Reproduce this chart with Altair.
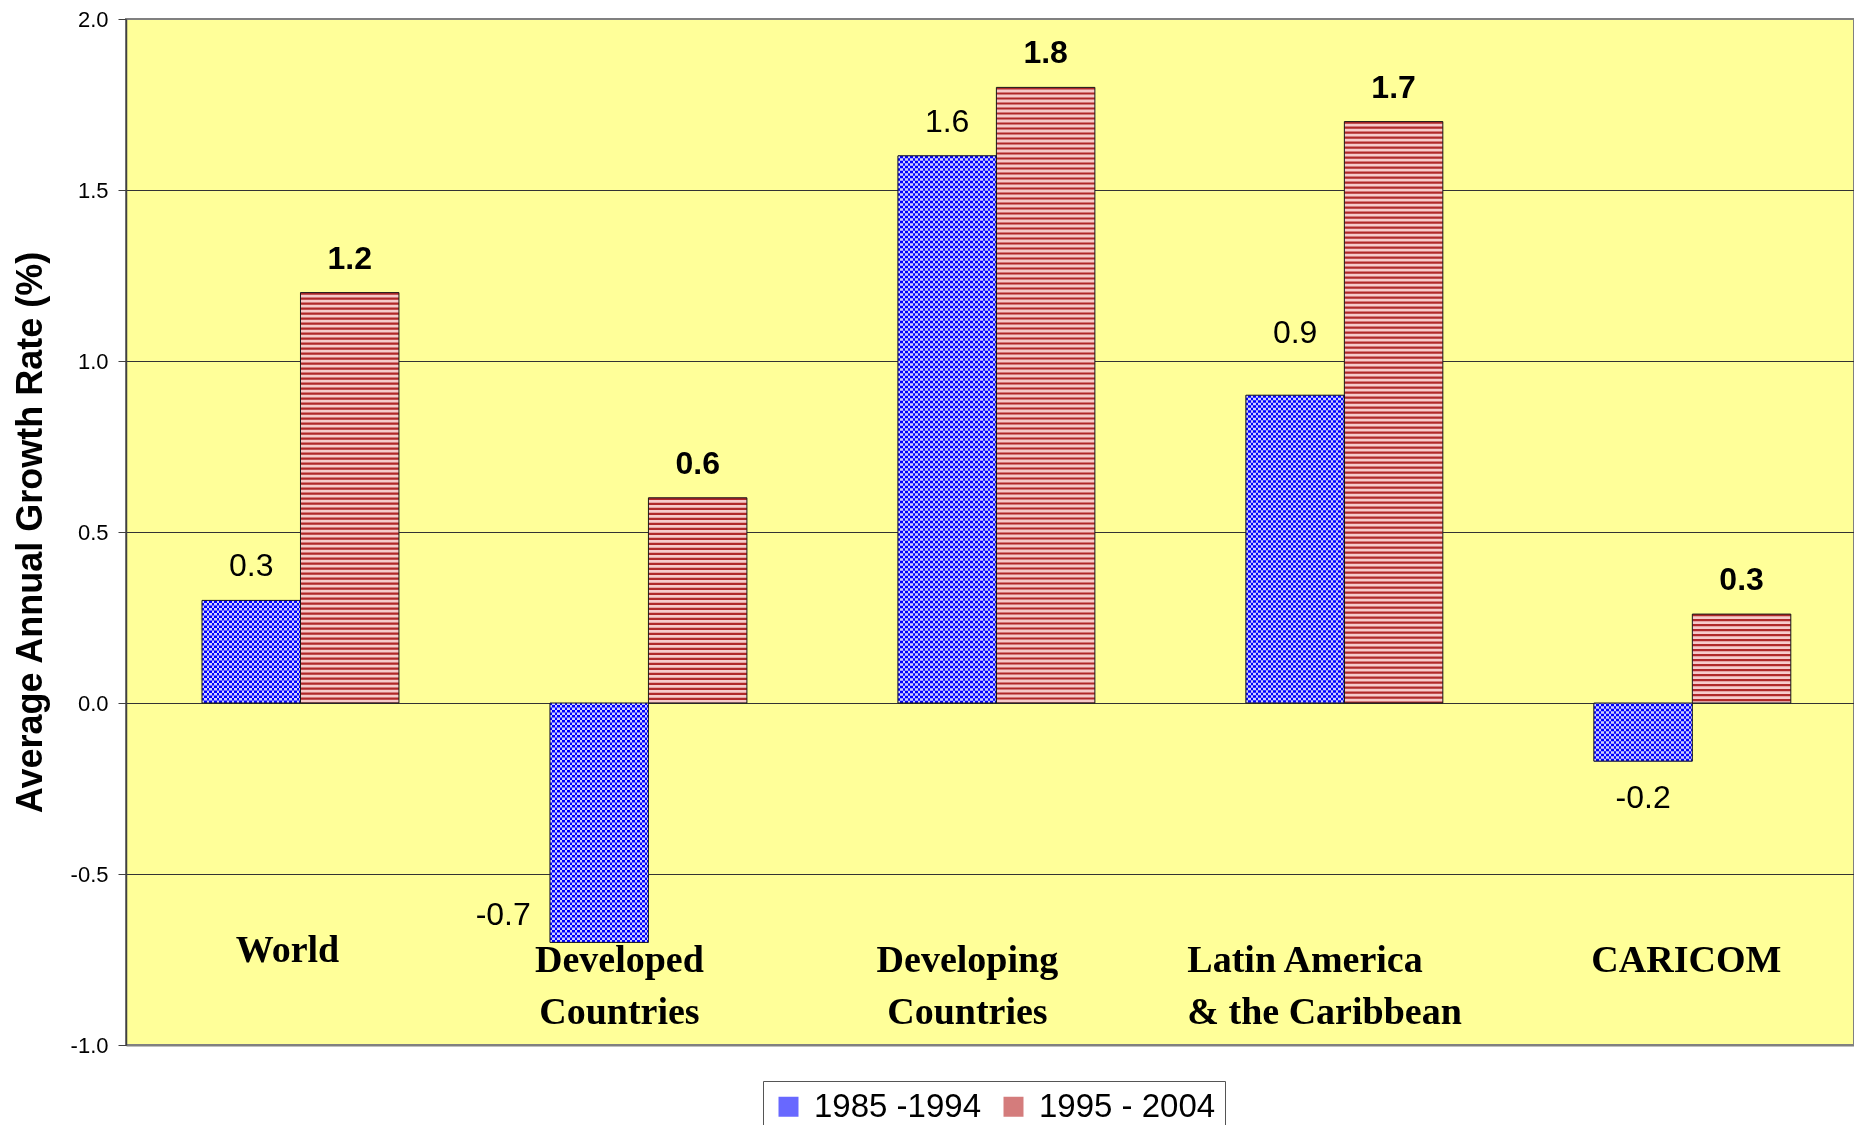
import altair as alt

# ---------------- data ----------------
categories = ["World", "Developed Countries", "Developing Countries",
              "Latin America & the Caribbean", "CARICOM"]
series_names = ["1985 -1994", "1995 - 2004"]
growth_1985_1994 = [0.3, -0.7, 1.6, 0.9, -0.17]
growth_1995_2004 = [1.2, 0.6, 1.8, 1.7, 0.26]
y_tick_values = [-1.0, -0.5, 0.0, 0.5, 1.0, 1.5, 2.0]

# ---------------- layout / style ----------------
PLOT_W, PLOT_H = 1728, 1026
Y_MIN, Y_MAX = -1.0, 2.0
PAD_INNER, PAD_OUTER, BAND_ALIGN = 0.434, 0.2, 0.546
STEP_PX = PLOT_W / (len(categories) - PAD_INNER + 2 * PAD_OUTER)
BAR_PX = STEP_PX * (1 - PAD_INNER) / 2
CHECK_PX = 5.0            # checker period (px)

BLUE, BLUE_LIGHT = "#0000FF", "#D0D0FF"
BLUE_XOR = "#D0D000"      # difference-blend colour that swaps BLUE <-> BLUE_LIGHT
RED_DARK, RED_LIGHT = "#B02828", "#F6CACA"
BLUE_AVG, RED_AVG = "#6868FF", "#D47C7C"


def column_gradient(c1, c2, length_px, period, frac):
    stops = []
    k = 0
    while k * period < length_px:
        a = k * period / length_px
        b = min(1.0, (k + frac) * period / length_px)
        c = min(1.0, (k + 1) * period / length_px)
        stops += [{"offset": round(a, 6), "color": c1},
                  {"offset": round(b, 6), "color": c1},
                  {"offset": round(b, 6), "color": c2},
                  {"offset": round(c, 6), "color": c2}]
        k += 1
    return {"gradient": "linear", "x1": 0, "y1": 0, "x2": 1, "y2": 0, "stops": stops}


records = []
for cat, v1, v2 in zip(categories, growth_1985_1994, growth_1995_2004):
    for s, v in ((series_names[0], v1), (series_names[1], v2)):
        if s == series_names[0]:
            fill = column_gradient(BLUE, BLUE_LIGHT, BAR_PX, CHECK_PX, 0.5)
        else:
            fill = RED_LIGHT
        records.append({"category": cat, "series": s, "value": v,
                        "label": f"{v:.1f}", "fill": fill})

FONT = "Liberation Sans"
SERIF = "Liberation Serif"
LATIN = categories[3]

x_axis = alt.Axis(
    title=None, orient="bottom", ticks=False, labelAngle=0,
    labelFont=SERIF, labelFontWeight="bold", labelFontSize=38, labelColor="black",
    labelLineHeight=52, labelBaseline="top", labelLimit=600, labelOverlap=False,
    labelPadding={"condition": {"test": "datum.value == 'World'", "value": -114}, "value": -104},
    labelOffset={"condition": [
        {"test": "datum.value == 'World'", "value": -13},
        {"test": f"datum.value == '{LATIN}'", "value": -157},
        {"test": "datum.value == 'CARICOM'", "value": -6}], "value": -29},
    labelAlign={"condition": {"test": f"datum.value == '{LATIN}'", "value": "left"}, "value": "center"},
    labelExpr="split(replace(replace(datum.label, ' Countries', '|Countries'), ' & ', '|& '), '|')",
    domainColor="#808080", domainWidth=2,
)

y_axis = alt.Axis(
    title="Average Annual Growth Rate (%)", values=y_tick_values,
    labelExpr="(datum.value < 0 ? '-' : '') + format(abs(datum.value), '.1f')",
    labelFont=FONT, labelFontSize=22, labelColor="black", labelPadding=10,
    tickSize=8, tickColor="#404040", domainColor="#404040", domainWidth=1.5,
    grid=True,
    gridColor={"condition": {"test": "datum.value == 2 || datum.value == -1",
                             "value": "rgba(0,0,0,0)"}, "value": "#333333"},
    gridWidth=1,
    titleFont=FONT, titleFontWeight="bold", titleFontSize=36, titleColor="black",
    titlePadding=21,
)

base = alt.Chart(alt.Data(values=records)).encode(
    x=alt.X("category:N", sort=categories,
            scale=alt.Scale(paddingInner=PAD_INNER, paddingOuter=PAD_OUTER,
                            align=BAND_ALIGN), axis=x_axis),
    xOffset=alt.XOffset("series:N", sort=series_names,
                        scale=alt.Scale(paddingInner=0, paddingOuter=0)),
    y=alt.Y("value:Q", scale=alt.Scale(domain=[Y_MIN, Y_MAX], nice=False, zero=False),
            axis=y_axis),
)

solid = base.mark_bar().encode(
    color=alt.Color("series:N", sort=series_names,
                    scale=alt.Scale(domain=series_names, range=[BLUE_AVG, RED_AVG]),
                    legend=alt.Legend(
                        orient="none", legendX=637, legendY=1062, direction="horizontal",
                        title=None, labelFont=FONT, labelFontSize=33, labelColor="black",
                        symbolType="square", symbolSize=400, labelOffset=9,
                        columnPadding=16, padding=9, strokeColor="#555555",
                        labelLimit=400)),
)

# column pattern (blue) / light base (red)
patterned = base.mark_bar().encode(fill=alt.Fill("fill:N", scale=None))

# horizontal dashed bands: XOR on blue (-> checker), dark stripes on red
checker = base.transform_filter(alt.datum.series == series_names[0]).mark_rule(
    strokeWidth=BAR_PX, strokeDash=[CHECK_PX / 2, CHECK_PX / 2], strokeCap="butt",
    color=BLUE_XOR, blend="difference").encode(y2=alt.datum(0))

stripes = base.transform_filter(alt.datum.series == series_names[1]).mark_rule(
    strokeWidth=BAR_PX, strokeDash=[2.2, 2.8], strokeCap="butt",
    color=RED_DARK).encode(y2=alt.datum(0))

outline = base.mark_bar(fillOpacity=0, stroke="#1a1a1a", strokeWidth=1)

blue_pos = base.transform_filter(
    (alt.datum.series == series_names[0]) & (alt.datum.value >= 0)
    & (alt.datum.category != LATIN)
).mark_text(font=FONT, fontSize=32, color="black", baseline="middle", dy=-34).encode(
    text="label:N")

blue_pos_high = base.transform_filter(
    (alt.datum.series == series_names[0]) & (alt.datum.category == LATIN)
).mark_text(font=FONT, fontSize=32, color="black", baseline="middle", dy=-62).encode(
    text="label:N")

red_pos = base.transform_filter(
    (alt.datum.series == series_names[1]) & (alt.datum.value >= 0)
).mark_text(font=FONT, fontSize=32, fontWeight="bold", color="black",
            baseline="middle", dy=-34).encode(text="label:N")

blue_neg_small = base.transform_filter(
    (alt.datum.series == series_names[0]) & (alt.datum.value < 0) & (alt.datum.value > -0.5)
).mark_text(font=FONT, fontSize=32, color="black", baseline="middle", dy=37).encode(
    text="label:N")

blue_neg_big = base.transform_filter(
    (alt.datum.series == series_names[0]) & (alt.datum.value <= -0.5)
).mark_text(font=FONT, fontSize=32, color="black", baseline="middle", dx=-96, dy=-27).encode(
    text="label:N")

chart = alt.layer(
    solid, patterned, checker, stripes, outline,
    blue_pos, blue_pos_high, red_pos, blue_neg_small, blue_neg_big
).properties(
    width=PLOT_W, height=PLOT_H,
    autosize=alt.AutoSizeParams(type="none"),
    padding={"left": 118, "top": 11, "right": 0, "bottom": 80},
).configure_view(
    fill="#FFFF99", stroke="#808080", strokeWidth=2
)

chart.save("out.html", embed_options={"renderer": "svg", "actions": False})
